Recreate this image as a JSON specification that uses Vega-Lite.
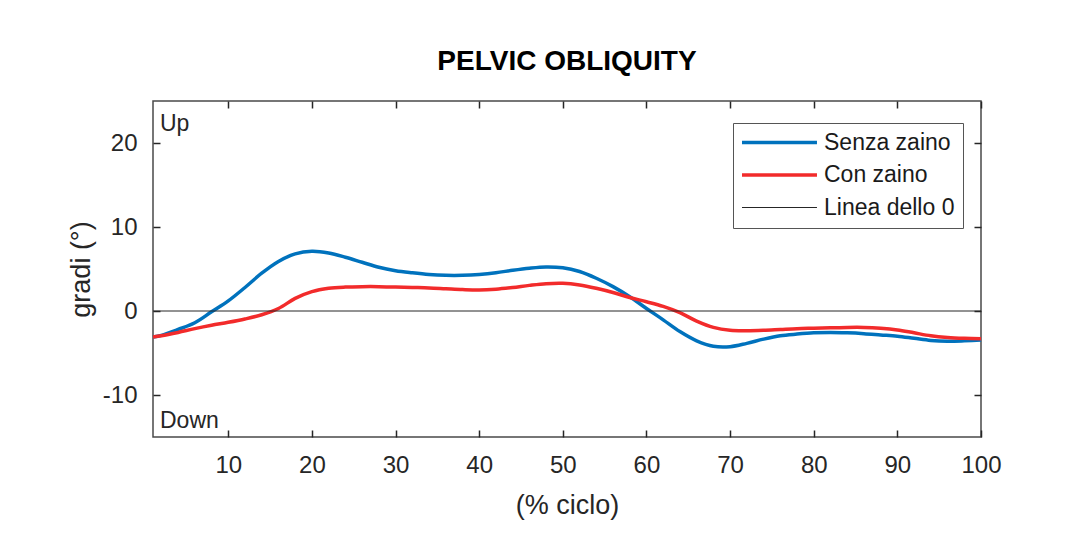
{
  "$schema": "https://vega.github.io/schema/vega-lite/v6.json",
  "width": 828,
  "height": 336,
  "autosize": {"type": "none"},
  "padding": {"left": 153, "top": 101, "right": 86, "bottom": 111},
  "background": "white",
  "title": {"text": "PELVIC OBLIQUITY", "font": "Liberation Sans", "fontSize": 28, "fontWeight": "bold", "color": "#000000", "offset": 2, "baseline": "alphabetic", "anchor": "middle"},
  "config": {
    "font": "Liberation Sans",
    "view": {"stroke": "#4a4a4a", "strokeWidth": 1.5},
    "axis": {"grid": false, "domain": false, "ticks": true, "tickColor": "#262626", "tickSize": -7, "tickWidth": 1.5, "labelFont": "Liberation Sans", "labelFontSize": 24, "labelColor": "#262626", "titleFont": "Liberation Sans", "titleFontSize": 27, "titleFontWeight": "normal", "titleColor": "#262626", "labelFlush": false},
    "legend": {"orient": "none", "legendX": 580, "legendY": 22, "title": null, "padding": 8, "strokeColor": "#555555", "fillColor": "white", "symbolType": "M-1,0H5.52", "symbolSize": 529, "symbolStrokeWidth": 3.5, "symbolOffset": 1, "labelFontSize": 23, "labelFont": "Liberation Sans", "labelColor": "#1a1a1a", "labelOffset": 59, "rowPadding": 8.5, "labelLimit": 300}
  },
  "datasets": {
    "curves": [
      {"x": 1, "y": -3.1, "serie": "Senza zaino"},
      {"x": 2, "y": -2.9, "serie": "Senza zaino"},
      {"x": 4, "y": -2.2, "serie": "Senza zaino"},
      {"x": 6, "y": -1.4, "serie": "Senza zaino"},
      {"x": 8, "y": -0.1, "serie": "Senza zaino"},
      {"x": 10, "y": 1.2, "serie": "Senza zaino"},
      {"x": 12, "y": 2.8, "serie": "Senza zaino"},
      {"x": 14, "y": 4.5, "serie": "Senza zaino"},
      {"x": 16, "y": 5.9, "serie": "Senza zaino"},
      {"x": 18, "y": 6.8, "serie": "Senza zaino"},
      {"x": 20, "y": 7.1, "serie": "Senza zaino"},
      {"x": 22, "y": 6.9, "serie": "Senza zaino"},
      {"x": 24, "y": 6.4, "serie": "Senza zaino"},
      {"x": 26, "y": 5.8, "serie": "Senza zaino"},
      {"x": 28, "y": 5.2, "serie": "Senza zaino"},
      {"x": 30, "y": 4.8, "serie": "Senza zaino"},
      {"x": 32, "y": 4.55, "serie": "Senza zaino"},
      {"x": 34, "y": 4.35, "serie": "Senza zaino"},
      {"x": 36, "y": 4.25, "serie": "Senza zaino"},
      {"x": 38, "y": 4.25, "serie": "Senza zaino"},
      {"x": 40, "y": 4.35, "serie": "Senza zaino"},
      {"x": 42, "y": 4.55, "serie": "Senza zaino"},
      {"x": 44, "y": 4.85, "serie": "Senza zaino"},
      {"x": 46, "y": 5.1, "serie": "Senza zaino"},
      {"x": 48, "y": 5.25, "serie": "Senza zaino"},
      {"x": 50, "y": 5.15, "serie": "Senza zaino"},
      {"x": 52, "y": 4.7, "serie": "Senza zaino"},
      {"x": 54, "y": 3.9, "serie": "Senza zaino"},
      {"x": 56, "y": 2.9, "serie": "Senza zaino"},
      {"x": 58, "y": 1.7, "serie": "Senza zaino"},
      {"x": 60, "y": 0.3, "serie": "Senza zaino"},
      {"x": 62, "y": -1.05, "serie": "Senza zaino"},
      {"x": 64, "y": -2.45, "serie": "Senza zaino"},
      {"x": 66, "y": -3.55, "serie": "Senza zaino"},
      {"x": 68, "y": -4.2, "serie": "Senza zaino"},
      {"x": 70, "y": -4.25, "serie": "Senza zaino"},
      {"x": 72, "y": -3.85, "serie": "Senza zaino"},
      {"x": 74, "y": -3.35, "serie": "Senza zaino"},
      {"x": 76, "y": -2.95, "serie": "Senza zaino"},
      {"x": 78, "y": -2.75, "serie": "Senza zaino"},
      {"x": 80, "y": -2.6, "serie": "Senza zaino"},
      {"x": 82, "y": -2.55, "serie": "Senza zaino"},
      {"x": 84, "y": -2.6, "serie": "Senza zaino"},
      {"x": 86, "y": -2.7, "serie": "Senza zaino"},
      {"x": 88, "y": -2.85, "serie": "Senza zaino"},
      {"x": 90, "y": -3.0, "serie": "Senza zaino"},
      {"x": 92, "y": -3.25, "serie": "Senza zaino"},
      {"x": 94, "y": -3.5, "serie": "Senza zaino"},
      {"x": 96, "y": -3.6, "serie": "Senza zaino"},
      {"x": 98, "y": -3.55, "serie": "Senza zaino"},
      {"x": 100, "y": -3.45, "serie": "Senza zaino"},
      {"x": 1, "y": -3.1, "serie": "Con zaino"},
      {"x": 2, "y": -2.95, "serie": "Con zaino"},
      {"x": 4, "y": -2.55, "serie": "Con zaino"},
      {"x": 6, "y": -2.1, "serie": "Con zaino"},
      {"x": 8, "y": -1.7, "serie": "Con zaino"},
      {"x": 10, "y": -1.35, "serie": "Con zaino"},
      {"x": 12, "y": -0.95, "serie": "Con zaino"},
      {"x": 14, "y": -0.45, "serie": "Con zaino"},
      {"x": 16, "y": 0.3, "serie": "Con zaino"},
      {"x": 18, "y": 1.5, "serie": "Con zaino"},
      {"x": 20, "y": 2.3, "serie": "Con zaino"},
      {"x": 22, "y": 2.7, "serie": "Con zaino"},
      {"x": 24, "y": 2.85, "serie": "Con zaino"},
      {"x": 26, "y": 2.9, "serie": "Con zaino"},
      {"x": 28, "y": 2.9, "serie": "Con zaino"},
      {"x": 30, "y": 2.85, "serie": "Con zaino"},
      {"x": 32, "y": 2.8, "serie": "Con zaino"},
      {"x": 34, "y": 2.75, "serie": "Con zaino"},
      {"x": 36, "y": 2.65, "serie": "Con zaino"},
      {"x": 38, "y": 2.55, "serie": "Con zaino"},
      {"x": 40, "y": 2.5, "serie": "Con zaino"},
      {"x": 42, "y": 2.6, "serie": "Con zaino"},
      {"x": 44, "y": 2.8, "serie": "Con zaino"},
      {"x": 46, "y": 3.05, "serie": "Con zaino"},
      {"x": 48, "y": 3.25, "serie": "Con zaino"},
      {"x": 50, "y": 3.3, "serie": "Con zaino"},
      {"x": 52, "y": 3.1, "serie": "Con zaino"},
      {"x": 54, "y": 2.7, "serie": "Con zaino"},
      {"x": 56, "y": 2.2, "serie": "Con zaino"},
      {"x": 58, "y": 1.6, "serie": "Con zaino"},
      {"x": 60, "y": 1.1, "serie": "Con zaino"},
      {"x": 62, "y": 0.55, "serie": "Con zaino"},
      {"x": 64, "y": -0.2, "serie": "Con zaino"},
      {"x": 66, "y": -1.2, "serie": "Con zaino"},
      {"x": 68, "y": -1.95, "serie": "Con zaino"},
      {"x": 70, "y": -2.3, "serie": "Con zaino"},
      {"x": 72, "y": -2.35, "serie": "Con zaino"},
      {"x": 74, "y": -2.3, "serie": "Con zaino"},
      {"x": 76, "y": -2.2, "serie": "Con zaino"},
      {"x": 78, "y": -2.1, "serie": "Con zaino"},
      {"x": 80, "y": -2.05, "serie": "Con zaino"},
      {"x": 82, "y": -2.0, "serie": "Con zaino"},
      {"x": 84, "y": -1.95, "serie": "Con zaino"},
      {"x": 86, "y": -1.95, "serie": "Con zaino"},
      {"x": 88, "y": -2.05, "serie": "Con zaino"},
      {"x": 90, "y": -2.25, "serie": "Con zaino"},
      {"x": 92, "y": -2.6, "serie": "Con zaino"},
      {"x": 94, "y": -2.95, "serie": "Con zaino"},
      {"x": 96, "y": -3.15, "serie": "Con zaino"},
      {"x": 98, "y": -3.25, "serie": "Con zaino"},
      {"x": 100, "y": -3.3, "serie": "Con zaino"}
    ],
    "zero": [
      {"x": 1, "y": 0, "serie": "Linea dello 0"},
      {"x": 100, "y": 0, "serie": "Linea dello 0"}
    ],
    "notes": [
      {"label": "Up", "x": 1, "y": 25},
      {"label": "Down", "x": 1, "y": -15}
    ]
  },
  "layer": [
    {
      "data": {"name": "curves"},
      "mark": {"type": "line", "interpolate": "catmull-rom", "strokeWidth": 3.5},
      "encoding": {
        "x": {"field": "x", "type": "quantitative", "scale": {"domain": [1, 100], "nice": false, "zero": false},
              "axis": {"orient": "bottom", "values": [10, 20, 30, 40, 50, 60, 70, 80, 90, 100], "title": "(% ciclo)", "labelPadding": 23, "titlePadding": 15}},
        "y": {"field": "y", "type": "quantitative", "scale": {"domain": [-15, 25], "nice": false, "zero": false},
              "axis": {"orient": "left", "values": [-10, 0, 10, 20], "title": "gradi (°)", "labelPadding": 23, "titlePadding": 7, "labelExpr": "'' + datum.value"}},
        "color": {"field": "serie", "type": "nominal",
                  "scale": {"domain": ["Senza zaino", "Con zaino", "Linea dello 0"], "range": ["#0072BD", "#F22B2B", "#262626"]},
                  "legend": {"encode": {"symbols": {"update": {"strokeWidth": {"signal": "datum.value === 'Linea dello 0' ? 1 : 3.5"}}}}}}
      }
    },
    {
      "data": {"name": "zero"},
      "mark": {"type": "line", "strokeWidth": 1},
      "encoding": {
        "x": {"field": "x", "type": "quantitative", "axis": null},
        "y": {"field": "y", "type": "quantitative", "axis": null},
        "color": {"field": "serie", "type": "nominal"}
      }
    },
    {
      "data": {"name": "notes"},
      "transform": [{"filter": "datum.label === 'Up'"}],
      "mark": {"type": "text", "align": "left", "baseline": "alphabetic", "dx": 7, "dy": 30, "fontSize": 23, "color": "#262626"},
      "encoding": {
        "x": {"field": "x", "type": "quantitative", "axis": {"orient": "top", "values": [10, 20, 30, 40, 50, 60, 70, 80, 90, 100], "labels": false, "title": null}},
        "y": {"field": "y", "type": "quantitative", "axis": {"orient": "right", "values": [-10, 0, 10, 20], "labels": false, "title": null}},
        "text": {"field": "label"}
      }
    },
    {
      "data": {"name": "notes"},
      "transform": [{"filter": "datum.label === 'Down'"}],
      "mark": {"type": "text", "align": "left", "baseline": "alphabetic", "dx": 7, "dy": -9, "fontSize": 23, "color": "#262626"},
      "encoding": {
        "x": {"field": "x", "type": "quantitative", "axis": null},
        "y": {"field": "y", "type": "quantitative", "axis": null},
        "text": {"field": "label"}
      }
    }
  ]
}
